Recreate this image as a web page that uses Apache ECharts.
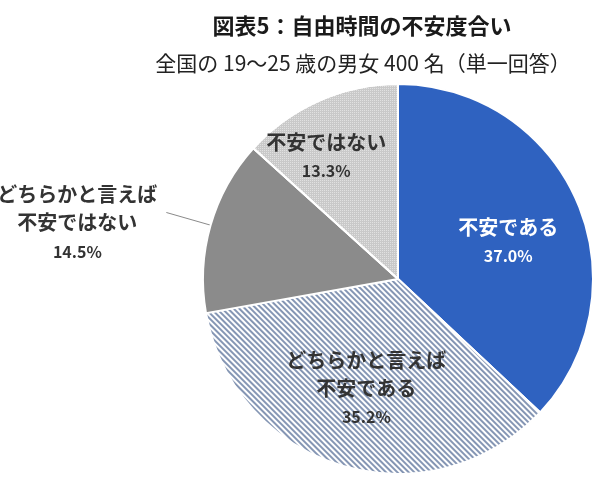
<!DOCTYPE html>
<html>
<head>
<meta charset="utf-8">
<script src="https://cdn.jsdelivr.net/npm/echarts@6/dist/echarts.min.js"></script>
<style>
  html, body { margin: 0; padding: 0; background: #fff; }
  #main { width: 600px; height: 482px; }
</style>
</head>
<body>
<div id="main"></div>
<script>
// data
var categories = ['不安である', 'どちらかと言えば\n不安である', 'どちらかと言えば\n不安ではない', '不安ではない'];
var values = [37.0, 35.2, 14.5, 13.3];

var myChart = echarts.init(document.getElementById('main'));

var font = '"Noto Sans CJK JP", "Noto Sans", sans-serif';

// label text: each name line + percent line
function fmt(p) {
    var lines = p.name.split('\n').map(function (s) { return '{n|' + s + '}'; });
    lines.push('{p|' + p.value.toFixed(1) + '%}');
    return lines.join('\n');
}

function rich(color, w) {
    return {
        n: { fontSize: 20, fontWeight: 'bold', color: color, lineHeight: 28, width: w, align: 'center', fontFamily: font },
        p: { fontSize: 16, fontWeight: 'bold', color: color, lineHeight: 30, width: w, align: 'center', fontFamily: font }
    };
}

var colors = ['#2f62c0', '#ffffff', '#8b8b8b', '#c9c9c9'];

var slices = values.map(function (v, i) {
    var item = { value: v, name: categories[i], itemStyle: { color: colors[i] } };
    if (i === 0) {
        item.label = { position: 'inside', formatter: fmt, rich: rich('#fff') };
    } else if (i === 1) {
        // diagonal hatch, "\\\" direction
        item.itemStyle.decal = {
            symbol: 'rect', symbolSize: 1, color: '#8596b4',
            dashArrayX: [1, 0], dashArrayY: [2, 2], rotation: Math.PI / 4
        };
        item.label = { position: 'inside', formatter: fmt, rich: rich('#333') };
    } else if (i === 2) {
        item.label = { position: 'outside', formatter: fmt, rich: rich('#333', 170), distanceToLabelLine: 4 };
        item.labelLine = { show: true, length: 46, length2: 0, lineStyle: { color: '#8a8a8a', width: 1 } };
    } else {
        item.itemStyle.decal = {
            symbol: 'rect', symbolSize: 1, color: 'rgba(255,255,255,0.45)',
            dashArrayX: [1, 1], dashArrayY: [1, 1], rotation: 0
        };
        item.label = { position: 'inside', formatter: fmt, rich: rich('#333') };
    }
    return item;
});

// small nudges so labels sit where the original has them
var nudge = { 0: [18, 3], 1: [-3, 14], 2: [0, 11], 3: [-31, -30] };

var option = {
    backgroundColor: '#fff',
    animation: false,
    title: [
        {
            text: '図表5：自由時間の不安度合い',
            left: 357, top: 10, textAlign: 'center',
            textStyle: { fontSize: 22, fontWeight: 'bold', color: '#1a1a1a', fontFamily: font }
        },
        {
            text: '全国の 19～25 歳の男女 400 名（単一回答）',
            left: 358, top: 48, textAlign: 'center',
            textStyle: { fontSize: 21, fontWeight: 'normal', color: '#222', fontFamily: font }
        }
    ],
    series: [
        {
            name: '自由時間の不安度合い',
            type: 'pie',
            center: [398, 279],
            radius: [0, 195],
            startAngle: 90,
            clockwise: true,
            avoidLabelOverlap: false,
            itemStyle: { borderColor: '#fff', borderWidth: 2 },
            labelLayout: function (p) {
                var d = nudge[p.dataIndex] || [0, 0];
                return { dx: d[0], dy: d[1] };
            },
            emphasis: { disabled: true },
            data: slices
        }
    ]
};

myChart.setOption(option);
</script>
</body>
</html>
